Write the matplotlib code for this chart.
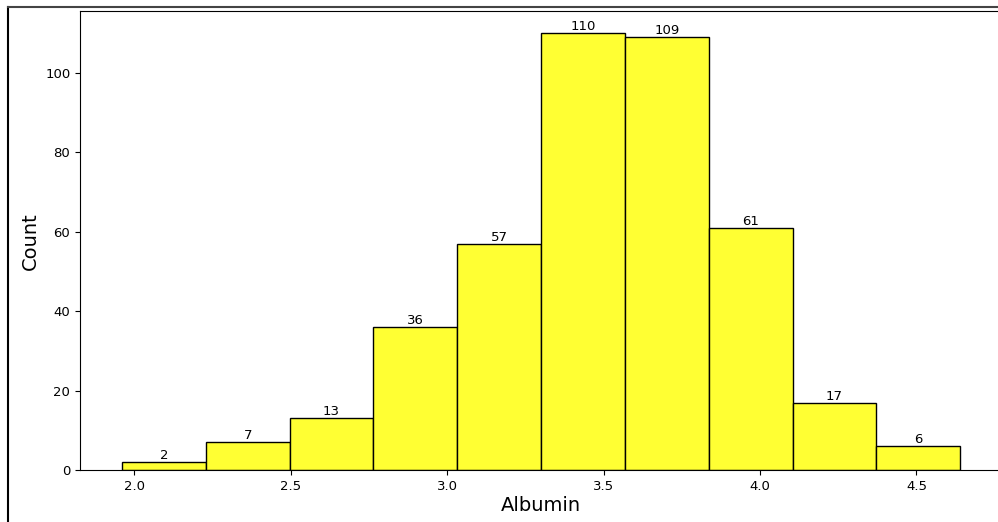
import numpy as np
import matplotlib
matplotlib.use('agg')
import matplotlib.pyplot as plt
from matplotlib.lines import Line2D

# albumin histogram, 10 bins between min and max
alb_min = 1.96
alb_max = 4.64
counts = [2, 7, 13, 36, 57, 110, 109, 61, 17, 6]

edges = np.linspace(alb_min, alb_max, len(counts) + 1)
centers = (edges[:-1] + edges[1:]) / 2

fig = plt.figure(figsize=(9.98, 5.22), dpi=100)
ax = fig.add_axes([0.0802, 0.0996, 0.924, 0.8784])

n, b, patches = ax.hist(centers, bins=edges, weights=counts,
                        facecolor='#ffff33', edgecolor='black', linewidth=1)
ax.bar_label(patches, labels=[str(c) for c in counts], fontsize=9.5)

ax.set_xlabel('Albumin', fontsize=14, labelpad=2)
ax.set_ylabel('Count', fontsize=14)
ax.tick_params(labelsize=9.5)
ax.set_xticks([2.0, 2.5, 3.0, 3.5, 4.0, 4.5])

# screenshot frame (left and top edges)
fig.add_artist(Line2D([8/998, 8/998], [0, 1 - 7/522], transform=fig.transFigure,
                      color='black', lw=1.5))
fig.add_artist(Line2D([8/998, 1], [1 - 7/522, 1 - 7/522], transform=fig.transFigure,
                      color='#444444', lw=1.5))

fig.savefig('out.png', dpi=100)
